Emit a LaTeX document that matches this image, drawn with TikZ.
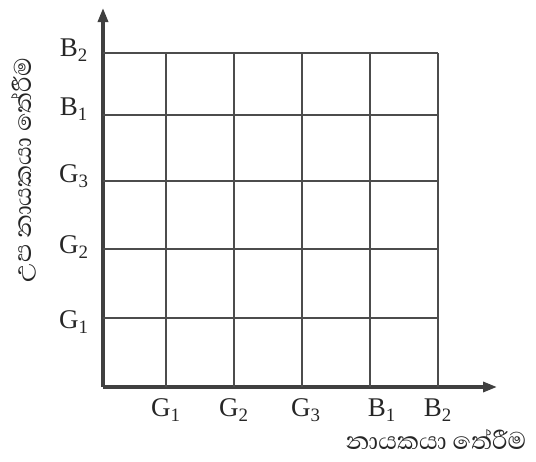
\documentclass[tikz,border=0pt]{standalone}
\usepackage{fontspec}
\setmainfont{Liberation Serif}
\newfontfamily\sinhala[Script=Sinhala]{Abhaya Libre}
\usetikzlibrary{arrows.meta}
\tikzset{
  axis/.style={line width=1.6pt, draw=black!75, -{Triangle[length=7pt,width=5pt]}},
  gridline/.style={line width=1pt, draw=black!70},
  lbl/.style={font=\fontsize{13.5}{16}\selectfont, text=black!85},
  axtitle/.style={font=\sinhala\fontsize{15.5}{18}\selectfont, text=black!85, inner sep=1pt}
}
\begin{document}
\begin{tikzpicture}[x=0.5pt,y=-0.5pt]
\useasboundingbox (0,0) rectangle (536,461);
%axes
\coordinate (O) at (103,387);
\coordinate (ytip) at (103,8);
\coordinate (xtip) at (497,387);
\draw[axis] (O) -- (ytip);
\draw[axis] (O) -- (xtip);
%grid
\foreach \x in {166,234,302,370,438}
  \draw[gridline] (\x,387) -- (\x,53);
\foreach \y in {53,115,181,249,318}
  \draw[gridline] (103,\y) -- (438,\y);
%leader labels
\foreach \t/\s/\x [count=\i] in {G/1/166, G/2/234, G/3/306, B/1/382, B/2/438}
  \node[lbl] (lx\i) at (\x,410) {\t\textsubscript{\s}};
%deputy labels
\foreach \t/\s/\y [count=\i] in {G/1/322, G/2/247, G/3/176, B/1/109, B/2/50}
  \node[lbl] (ly\i) at (74,\y) {\t\textsubscript{\s}};
%titles
\node[axtitle, rotate=90] (ytitle) at (24,170) {උප නායකයා තේරීම};
\node[axtitle] (xtitle) at (436,439) {නායකයා තේරීම};
\end{tikzpicture}
\end{document}
